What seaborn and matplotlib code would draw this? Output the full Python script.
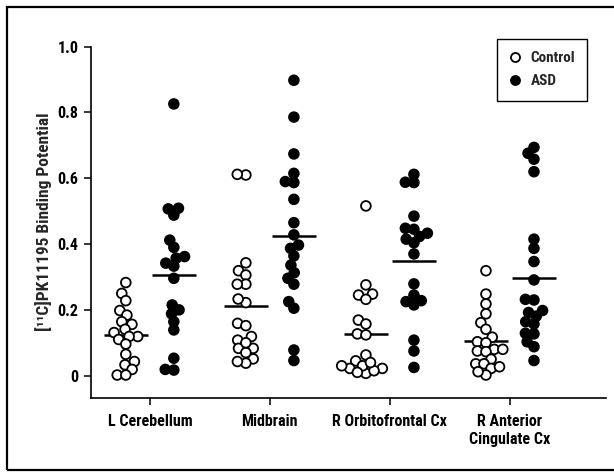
import numpy as np
import pandas as pd
import matplotlib
matplotlib.use("Agg")
import matplotlib.pyplot as plt
import seaborn as sns
from matplotlib.lines import Line2D
from matplotlib.patches import Rectangle

regions = ["L Cerebellum", "Midbrain", "R Orbitofrontal Cx", "R Anterior\nCingulate Cx"]
groups = ["Control", "ASD"]

lcb_control = [0.283, 0.25, 0.228, 0.198, 0.184, 0.164, 0.156, 0.141, 0.131, 0.119,
               0.119, 0.11, 0.096, 0.065, 0.043, 0.033, 0.019, 0.002, 0.002]
lcb_asd = [0.826, 0.507, 0.509, 0.488, 0.412, 0.39, 0.357, 0.362, 0.333, 0.342,
           0.296, 0.215, 0.2, 0.188, 0.164, 0.139, 0.053, 0.017, 0.019]
mid_control = [0.61, 0.612, 0.343, 0.319, 0.306, 0.278, 0.278, 0.222, 0.233, 0.159,
               0.152, 0.119, 0.108, 0.083, 0.083, 0.051, 0.038, 0.043, 0.07, 0.10]
mid_asd = [0.898, 0.786, 0.674, 0.615, 0.587, 0.59, 0.536, 0.465, 0.428, 0.387,
           0.397, 0.364, 0.336, 0.313, 0.296, 0.278, 0.225, 0.205, 0.078, 0.046]
rof_control = [0.516, 0.276, 0.245, 0.248, 0.232, 0.169, 0.157, 0.127, 0.124, 0.063,
               0.045, 0.022, 0.007, 0.022, 0.03, 0.015, 0.01, 0.03, 0.04]
rof_asd = [0.612, 0.588, 0.587, 0.485, 0.445, 0.448, 0.433, 0.423, 0.415, 0.404,
           0.37, 0.279, 0.228, 0.215, 0.245, 0.225, 0.108, 0.075, 0.025]
racc_control = [0.319, 0.248, 0.218, 0.188, 0.161, 0.141, 0.117, 0.103, 0.1, 0.08,
                0.08, 0.075, 0.073, 0.05, 0.036, 0.036, 0.022, 0.027, 0.002, 0.012]
racc_asd = [0.694, 0.676, 0.658, 0.62, 0.415, 0.387, 0.347, 0.291, 0.232, 0.23,
            0.192, 0.198, 0.181, 0.164, 0.157, 0.129, 0.127, 0.103, 0.088, 0.046]

yticks = [0, 0.2, 0.4, 0.6, 0.8, 1.0]
ytick_labels = ["0", "0.2", "0.4", "0.6", "0.8", "1.0"]

series = {
    (regions[0], "Control"): lcb_control, (regions[0], "ASD"): lcb_asd,
    (regions[1], "Control"): mid_control, (regions[1], "ASD"): mid_asd,
    (regions[2], "Control"): rof_control, (regions[2], "ASD"): rof_asd,
    (regions[3], "Control"): racc_control, (regions[3], "ASD"): racc_asd,
}
rows = []
for (reg, grp), vals in series.items():
    for v in vals:
        rows.append({"region": reg, "group": grp, "value": v})
df = pd.DataFrame(rows)

sns.set_style("ticks")
plt.rcParams["font.family"] = ["Roboto Condensed", "Liberation Sans Narrow", "Liberation Sans", "DejaVu Sans"]
plt.rcParams["font.weight"] = "bold"
plt.rcParams["font.stretch"] = "condensed"

fig = plt.figure(figsize=(6.14, 4.72), dpi=100)
ax = fig.add_axes([91 / 614, 1 - 397.7 / 472, 515 / 614, (397.7 - 46.7) / 472])

sns.swarmplot(data=df, x="region", y="value", hue="group", order=regions,
              hue_order=groups, dodge=True,
              palette={"Control": "white", "ASD": "black"},
              edgecolor="black", linewidth=1.3, size=4.6, legend=False, ax=ax)
ax.set_xlim(-0.49, 3.8)
ax.set_ylim(-0.067, 1.0)

# compute swarm layout once, then freeze it and draw the markers at full size
fig.canvas.draw()
for coll in list(ax.collections):
    if "draw" in coll.__dict__:
        del coll.draw
    coll.set_sizes([7.0 ** 2] * len(coll.get_offsets()))

sns.pointplot(data=df, x="region", y="value", hue="group", order=regions,
              hue_order=groups, dodge=0.4, estimator="mean", errorbar=None,
              markers="_", linestyle="none",
              palette={"Control": "black", "ASD": "black"},
              markersize=32, markeredgewidth=1.8, legend=False, ax=ax)

ax.set_xlim(-0.49, 3.8)
ax.set_ylim(-0.067, 1.0)
ax.set_yticks(yticks)
ax.set_yticklabels(ytick_labels, fontsize=11.5, fontweight="bold")
ax.set_xticks(range(len(regions)))
ax.set_xticklabels(regions, fontsize=11.5, fontweight="bold")
ax.tick_params(axis="x", pad=7)
ax.set_xlabel("")
ax.set_ylabel("[¹¹C]PK11195 Binding Potential", fontsize=12.5, fontweight="bold", labelpad=4)
sns.despine(ax=ax)
for s in ["left", "bottom"]:
    ax.spines[s].set_linewidth(1.2)
    ax.spines[s].set_color("black")
ax.tick_params(axis="both", length=5, width=1.1, color="black", labelcolor="black")
ax.tick_params(axis="y", pad=4)

handles = [
    Line2D([], [], marker="o", ls="none", mfc="white", mec="black", mew=1.3, ms=6.5),
    Line2D([], [], marker="o", ls="none", mfc="black", mec="black", mew=1.3, ms=6.5),
]
leg = fig.legend(handles, groups, loc="upper left", bbox_to_anchor=(497 / 614, 1 - 39 / 472),
                 borderaxespad=0, frameon=True, fancybox=False, edgecolor="black",
                 framealpha=1, borderpad=0.8, labelspacing=0.6, handlelength=0.8,
                 handletextpad=0.6, prop=dict(weight="bold", size=11))
leg.get_frame().set_linewidth(1.0)

fig.add_artist(Rectangle((7 / 614, 1 - 470 / 472), (630 - 7) / 614, (470 - 7) / 472,
                         transform=fig.transFigure, fill=False, lw=1.6, ec="black",
                         clip_on=False))

fig.savefig("out.png", dpi=100)
